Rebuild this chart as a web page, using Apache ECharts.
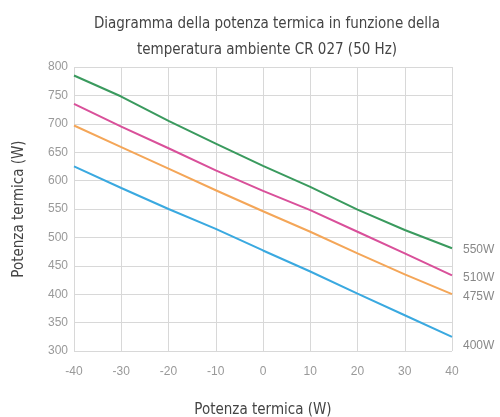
<!DOCTYPE html>
<html><head><meta charset="utf-8">
<script src="https://cdn.jsdelivr.net/npm/echarts@6/dist/echarts.min.js"></script>
<style>html,body{margin:0;padding:0;background:#fff}#c{width:500px;height:417px}</style>
</head><body><div id="c"></div>
<script>
const temps = [-40, -30, -20, -10, 0, 10, 20, 30, 40];
const s550 = [785, 748, 705, 665, 626, 589, 549, 513, 481];
const s510 = [735, 695, 657, 618, 582, 548, 510, 472, 433];
const s475 = [697, 659, 621, 583, 546, 510, 472, 435, 400];
const s400 = [625, 587, 550, 515, 477, 440, 401, 363, 325];
const seriesNames = ['550W', '510W', '475W', '400W'];
const titleText = 'Diagramma della potenza termica in funzione della\ntemperatura ambiente CR 027 (50 Hz)';
const axisName = 'Potenza termica (W)';

const narrow = '"DejaVu Sans Condensed","Liberation Sans Narrow",sans-serif';
const colors = ['#3a9a5e', '#d9509a', '#f4a658', '#3aa9e0'];
const labelOffsets = [[3, 1], [3, 2], [3, 2], [3, 9]];
const all = [s550, s510, s475, s400];

const chart = echarts.init(document.getElementById('c'), null, {renderer: 'canvas'});
chart.setOption({
  animation: false,
  title: {
    text: titleText, left: 262, textAlign: 'center', top: 6,
    textStyle: {fontFamily: narrow, fontSize: 15, fontWeight: 'normal', color: '#444', lineHeight: 26}
  },
  grid: {left: 74, right: 48, top: 67, bottom: 66, containLabel: false, outerBoundsMode: 'none'},
  xAxis: {
    type: 'value', min: -40, max: 40, interval: 10,
    name: axisName, nameLocation: 'middle', nameGap: 52,
    nameTextStyle: {fontFamily: narrow, fontSize: 15, color: '#444'},
    axisLine: {show: false}, axisTick: {show: false},
    axisLabel: {fontFamily: '"Liberation Sans Narrow",sans-serif', fontSize: 12, color: '#999', margin: 15},
    splitLine: {show: true, lineStyle: {color: '#d8d8d8', width: 1}}
  },
  yAxis: {
    type: 'value', min: 300, max: 800, interval: 50,
    name: axisName, nameLocation: 'middle', nameGap: 47, nameRotate: 90,
    nameTextStyle: {fontFamily: narrow, fontSize: 15, color: '#444'},
    axisLine: {show: false}, axisTick: {show: false},
    axisLabel: {fontFamily: '"Liberation Sans Narrow",sans-serif', fontSize: 12, color: '#999', margin: 6},
    splitLine: {show: true, lineStyle: {color: '#d8d8d8', width: 1}}
  },
  series: all.map((arr, i) => ({
    name: seriesNames[i], type: 'line', symbol: 'none', smooth: false,
    data: temps.map((t, j) => [t, arr[j]]),
    lineStyle: {color: colors[i], width: 2},
    itemStyle: {color: colors[i]},
    endLabel: {
      show: true, formatter: seriesNames[i], color: '#888',
      fontFamily: '"Liberation Sans Narrow",sans-serif', fontSize: 12,
      offset: labelOffsets[i]
    }
  }))
});
</script></body></html>
